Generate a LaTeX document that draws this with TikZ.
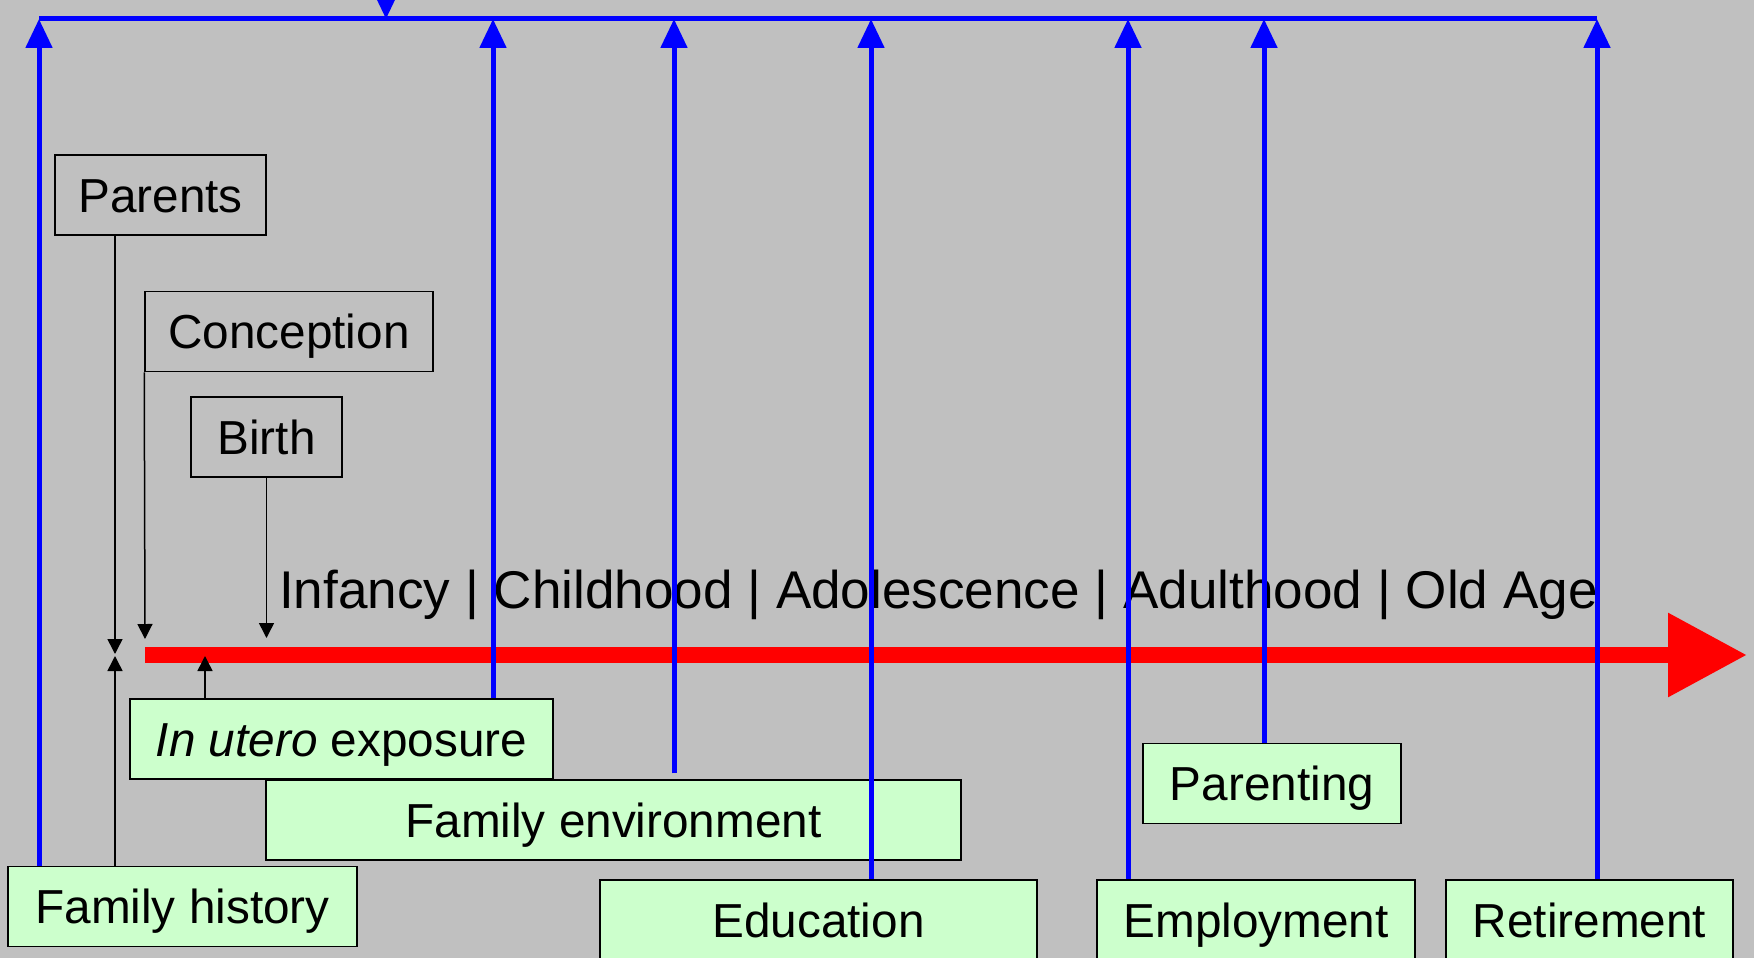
\documentclass[tikz,border=0pt]{standalone}
\usepackage{fontspec}
\setmainfont{Liberation Sans}
\usetikzlibrary{arrows.meta}
\definecolor{bggray}{RGB}{192,192,192}
\definecolor{boxgreen}{RGB}{204,255,204}
\begin{document}
\begin{tikzpicture}[x=1pt,y=-1pt,
  stagebox/.style={draw=black,line width=1.5pt,inner sep=0pt,
    minimum height=80pt,text height=34.5pt,text depth=0pt,
    font=\fontsize{47.7}{57}\selectfont},
  factorbox/.style={stagebox,fill=boxgreen},
  ptr/.style={line width=1.5pt,-{Triangle[length=15pt,width=15pt]}},
  link/.style={blue,line width=5pt,-{Triangle[length=29pt,width=26pt]}}]
  \fill[bggray] (0,0) rectangle (1754,958);
  \useasboundingbox (0,0) rectangle (1754,958);
  \clip (0,0) rectangle (1754,958);

  % life course line
  \coordinate (tl0) at (145,655);
  \coordinate (tl1) at (1747,655);
  \draw[red,line width=16pt,-{Triangle[length=79pt,width=80pt]}] (tl0) -- (tl1);
  \node[anchor=base west,inner sep=0pt,font=\fontsize{53.1}{64}\selectfont] (ages)
    at (279,608) {Infancy | Childhood | Adolescence | Adulthood | Old Age};

  % starting points
  \node[stagebox,minimum width=211pt] (parents) at (160.5,195) {Parents};
  \node[stagebox,minimum width=288pt] (concep) at (289,331.5) {Conception};
  \node[stagebox,minimum width=151pt] (birth) at (266.5,437) {Birth};

  \coordinate (pa) at (115,654);
  \coordinate (fa) at (115,656);
  \coordinate (ca) at (145,639);
  \coordinate (ba) at (266.5,638);
  \coordinate (ua) at (205,656);

  % exposures
  \node[factorbox,minimum width=423pt] (utero) at (341.5,739) {{\itshape In utero} exposure};
  \node[factorbox,minimum width=695pt] (fenv) at (613.5,820) {Family environment};
  \node[factorbox,minimum width=349pt] (fhist) at (182.5,906.5) {Family history};
  \node[factorbox,minimum width=437pt] (educ) at (818.5,920) {Education};
  \node[factorbox,minimum width=318pt] (employ) at (1256,920) {Employment};
  \node[factorbox,minimum width=287pt] (retire) at (1589.5,920) {Retirement};
  \node[factorbox,minimum width=258pt] (parenting) at (1272,783.5) {Parenting};

  \draw[ptr] (parents.south -| pa) -- (pa);
  \draw[ptr] (concep.south west) -- (ca);
  \draw[ptr] (birth.south) -- (ba);
  \draw[ptr] (fhist.north -| fa) -- (fa);
  \draw[ptr] (utero.north -| ua) -- (ua);

  % links to the top bar
  \foreach \nd/\xx in {fhist/39,utero/493,fenv/674,educ/871,employ/1128,parenting/1264,retire/1597}
    \coordinate (t\nd) at (\xx,19);
  \coordinate (tsrc) at (386,-12);
  \coordinate (tdown) at (386,19);
  \draw[blue,line width=5pt] (tfhist) -- (tretire);
  \draw[link] (tsrc) -- (tdown);
  \foreach \nd in {fhist,utero,educ,employ,parenting,retire}
    \draw[link] (\nd.north -| t\nd) -- (t\nd);
  \draw[link] ([yshift=6pt]fenv.north -| tfenv) -- (tfenv);
\end{tikzpicture}
\end{document}
